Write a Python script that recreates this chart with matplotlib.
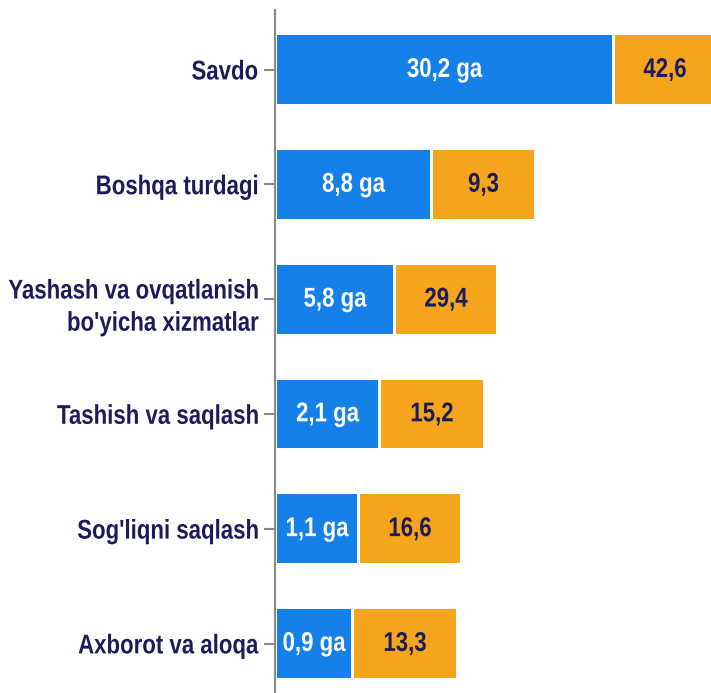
import matplotlib
matplotlib.use('Agg')
import matplotlib.pyplot as plt
from matplotlib import font_manager
from matplotlib.patheffects import AbstractPathEffect
from matplotlib.transforms import Affine2D

# Data
categories = ['Savdo', 'Boshqa turdagi', "Yashash va ovqatlanish\nbo'yicha xizmatlar",
              'Tashish va saqlash', "Sog'liqni saqlash", 'Axborot va aloqa']
blue_labels = ['30,2 ga', '8,8 ga', '5,8 ga', '2,1 ga', '1,1 ga', '0,9 ga']
orange_labels = ['42,6', '9,3', '29,4', '15,2', '16,6', '13,3']
# drawn bar lengths (chart is not to scale with labels)
blue_len = [335, 153, 116, 101, 80, 74]
orange_len = [100, 101, 100, 102, 100, 102]

names = [f.name for f in font_manager.fontManager.ttflist]
fam = 'Liberation Sans Narrow' if 'Liberation Sans Narrow' in names else 'Liberation Sans'
plt.rcParams['font.family'] = [fam, 'DejaVu Sans']


class Tall(AbstractPathEffect):
    # stretch glyphs vertically around mid cap height (reference text is tall)
    def __init__(self, sy=1.22):
        super().__init__()
        self.sy = sy

    def draw_path(self, renderer, gc, tpath, affine, rgbFace=None):
        cx, cy = affine.transform((0, 36))
        st = Affine2D().translate(-cx, -cy).scale(1, self.sy).translate(cx, cy)
        renderer.draw_path(gc, tpath, affine + st, rgbFace)


tall = [Tall()]

blue = '#1580e8'
orange = '#f5a51c'
navy = '#1c1c5a'
gap = 3
start = 2

fig = plt.figure(figsize=(7.11, 6.93), dpi=100)
ax = fig.add_axes([275/711, 0, 1 - 275/711, 1 - 10/693])

y = list(range(len(categories)))
ax.barh(y, blue_len, left=start, height=0.6, color=blue)
oleft = [start + b + gap for b in blue_len]
ax.barh(y, orange_len, left=oleft, height=0.6, color=orange)

for i in y:
    ax.text(start + blue_len[i] / 2, i, blue_labels[i], ha='center', va='center',
            color='white', fontsize=16, fontweight='bold', path_effects=tall)
    ax.text(oleft[i] + orange_len[i] / 2, i, orange_labels[i], ha='center', va='center',
            color=navy, fontsize=16, fontweight='bold', path_effects=tall)

ax.set_xlim(0, 436)
ax.set_ylim(5.43, -0.52)
ax.set_yticks(y)
ax.set_yticklabels(categories, fontsize=16, fontweight='bold', color=navy, linespacing=1.7)
for lab in ax.get_yticklabels():
    lab.set_path_effects(tall)
ax.tick_params(axis='y', length=8, width=1.5, color='#888888', pad=4)
ax.set_xticks([])
for s in ['top', 'right', 'bottom']:
    ax.spines[s].set_visible(False)
ax.spines['left'].set_color('#888888')
ax.spines['left'].set_linewidth(1.5)

fig.savefig('out.png', dpi=100)
